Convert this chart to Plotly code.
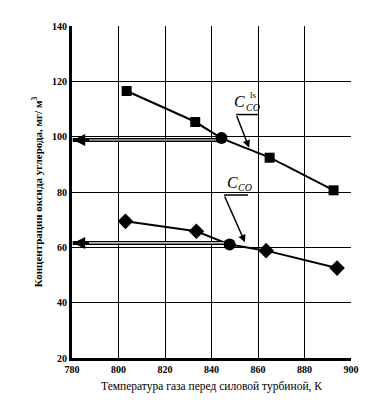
import plotly.graph_objects as go

# Data
temp_ls = [803.5, 833, 865, 892.5]
co_ls = [116.5, 105.3, 92.4, 80.6]
temp_co = [803, 833.5, 863.5, 894]
co_co = [69.4, 65.8, 58.8, 52.5]
circle_t = [844.3, 847.8]
circle_v = [99.5, 61.0]
level_ls = 98.8
level_co = 61.6
x_ticks = [780, 800, 820, 840, 860, 880, 900]
y_ticks = [20, 40, 60, 80, 100, 120, 140]

FONT = "Liberation Serif"


def px2x(p):
    return 780 + (p - 63.3) / 2.333


def px2y(p):
    return 140 - (p - 12) / 2.817


fig = go.Figure()

# curves
fig.add_trace(go.Scatter(x=[temp_ls[0], temp_ls[1], circle_t[0], temp_ls[2], temp_ls[3]],
                         y=[co_ls[0], co_ls[1], circle_v[0], co_ls[2], co_ls[3]],
                         mode="lines", line=dict(color="black", width=2, shape="spline", smoothing=0.3),
                         showlegend=False, hoverinfo="skip"))
fig.add_trace(go.Scatter(x=[temp_co[0], temp_co[1], circle_t[1], temp_co[2], temp_co[3]],
                         y=[co_co[0], co_co[1], circle_v[1], co_co[2], co_co[3]],
                         mode="lines", line=dict(color="black", width=2),
                         showlegend=False, hoverinfo="skip"))

# double horizontal lines
for lv, ct in [(level_ls, circle_t[0]), (level_co, circle_t[1])]:
    fig.add_trace(go.Scatter(x=[780.3, ct], y=[lv, lv], mode="lines",
                             line=dict(color="black", width=4), showlegend=False, hoverinfo="skip"))
    fig.add_trace(go.Scatter(x=[784, ct - 1], y=[lv, lv], mode="lines",
                             line=dict(color="white", width=1.2), showlegend=False, hoverinfo="skip"))
    fig.add_annotation(x=780.5, y=lv, ax=788, ay=lv, xref="x", yref="y", axref="x", ayref="y",
                       showarrow=True, arrowhead=2, arrowsize=1.2, arrowwidth=2, arrowcolor="black", text="")

# markers
fig.add_trace(go.Scatter(x=temp_ls, y=co_ls, mode="markers",
                         marker=dict(symbol="square", size=10, color="black"), showlegend=False))
fig.add_trace(go.Scatter(x=temp_co, y=co_co, mode="markers",
                         marker=dict(symbol="diamond", size=12, color="black"), showlegend=False))
fig.add_trace(go.Scatter(x=circle_t, y=circle_v, mode="markers",
                         marker=dict(symbol="circle", size=12, color="black"), showlegend=False))

# leader lines
fig.add_shape(type="line", x0=850.6, y0=108.0, x1=860.4, y1=108.0, line=dict(color="black", width=1.5))
fig.add_annotation(x=856.2, y=96.0, ax=850.6, ay=108.0, xref="x", yref="y", axref="x", ayref="y",
                   showarrow=True, arrowhead=2, arrowsize=1, arrowwidth=1.5, arrowcolor="black", text="")
fig.add_shape(type="line", x0=845.4, y0=78.9, x1=855.7, y1=78.9, line=dict(color="black", width=1.5))
fig.add_annotation(x=854.4, y=61.8, ax=845.4, ay=78.9, xref="x", yref="y", axref="x", ayref="y",
                   showarrow=True, arrowhead=2, arrowsize=1, arrowwidth=1.5, arrowcolor="black", text="")

# labels
fig.add_annotation(x=px2x(231), y=px2y(89), xref="x", yref="y", showarrow=False,
                   text="<i>C</i>", font=dict(family=FONT, size=16, color="black"))
fig.add_annotation(x=px2x(245), y=px2y(82), xref="x", yref="y", showarrow=False,
                   text="ls", font=dict(family=FONT, size=9, color="black"))
fig.add_annotation(x=px2x(245), y=px2y(95), xref="x", yref="y", showarrow=False,
                   text="<i>CO</i>", font=dict(family=FONT, size=10, color="black"))
fig.add_annotation(x=px2x(224), y=px2y(171), xref="x", yref="y", showarrow=False,
                   text="<i>C</i>", font=dict(family=FONT, size=16, color="black"))
fig.add_annotation(x=px2x(236.5), y=px2y(176), xref="x", yref="y", showarrow=False,
                   text="<i>CO</i>", font=dict(family=FONT, size=10, color="black"))

fig.update_xaxes(range=[780, 900], tickvals=x_ticks, ticktext=[str(v) for v in x_ticks],
                 showgrid=True, gridcolor="black", gridwidth=1, zeroline=False,
                 showline=True, linecolor="black", linewidth=3, ticks="", ticklen=0,
                 mirror=False,
                 tickfont=dict(family=FONT, size=10, color="black", weight="bold"),
                 title=dict(text="Температура газа перед силовой турбиной, К",
                            font=dict(family=FONT, size=11.5, color="black"), standoff=8))
fig.update_yaxes(range=[20, 140], tickvals=y_ticks, ticktext=[str(v) for v in y_ticks],
                 showgrid=True, gridcolor="black", gridwidth=1, zeroline=False,
                 showline=True, linecolor="black", linewidth=3, ticks="", ticklen=0,
                 tickfont=dict(family=FONT, size=10, color="black", weight="bold"),
                 title=dict(text="Концентрация оксида углерода, мг/ м<sup>3</sup>",
                            font=dict(family=FONT, size=11, color="black", weight="bold"), standoff=8))

fig.update_layout(width=385, height=400, margin=dict(l=64, r=42, t=12, b=50),
                  plot_bgcolor="white", paper_bgcolor="white")

fig.write_html("out.html")
